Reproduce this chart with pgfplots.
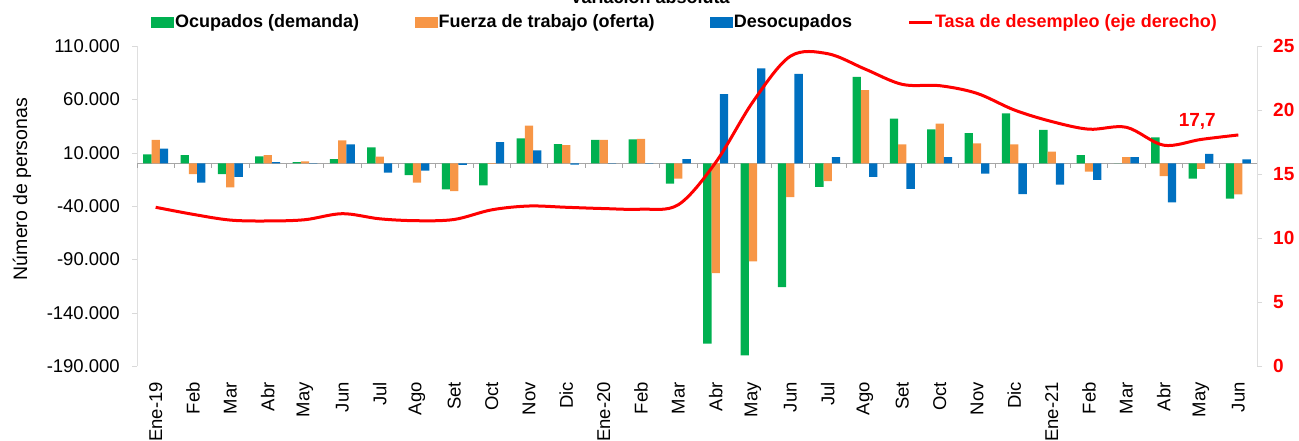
\documentclass[border=0pt]{standalone}
\usepackage{fontspec}
\setmainfont{Liberation Sans}
\usepackage{pgfplots}
\pgfplotsset{compat=1.18}
\usepackage{pgfplotstable}
\usetikzlibrary{calc}

\definecolor{ocu}{RGB}{0,176,80}
\definecolor{fue}{RGB}{247,150,70}
\definecolor{des}{RGB}{0,112,192}
\definecolor{tasa}{RGB}{255,0,0}

% variacion absoluta (personas) y tasa de desempleo (%)
\pgfplotstableread{
x  ocu      fue      des     tasa
0  8400     21900    13800   12.4
1  7800     -10000   -18000  11.85
2  -10000   -22500   -12800  11.4
3  6600     7800     1200    11.33
4  1200     1900     300     11.43
5  4000     21600    17800   11.9
6  15000    6200     -8800   11.5
7  -11000   -18000   -6900   11.35
8  -24400   -26000   -1500   11.45
9  -20600   -600     20000   12.2
10 23400    35300    12200   12.5
11 18000    17000    -1200   12.4
12 21900    21900    -300    12.3
13 22500    23000    -300    12.25
14 -19000   -14400   4000    12.6
15 -169000  -103000  65000   15.9
16 -180000  -92000   89000   20.65
17 -116000  -31600   83800   24.2
18 -22000   -16600   5900    24.4
19 81000    68600    -12800  23.2
20 41900    17800    -24000  22.0
21 31900    37200    5900    21.9
22 28400    18800    -9700   21.3
23 46900    17800    -28800  20.0
24 31300    10900    -20000  19.1
25 7800     -7800    -15600  18.5
26 0        5900     5900    18.65
27 24400    -11900   -36600  17.25
28 -14400   -5300    8800    17.7
29 -33000   -29000   3800    18.05
}\datos

\newcommand{\fnt}{\fontsize{18.5}{21}\selectfont}

\begin{document}
\begin{tikzpicture}
\begin{axis}[
  name=main,
  scale only axis, width=1120pt, height=320pt,
  xmin=-0.5, xmax=29.5,
  ymin=-190000, ymax=110000,
  ytick={-190000,-140000,...,110000},
  scaled y ticks=false,
  /pgf/number format/assume math mode=true,
  /pgf/number format/fixed,
  /pgf/number format/1000 sep={.},
  xtick={0,...,29},
  xticklabels={Ene-19,Feb,Mar,Abr,May,Jun,Jul,Ago,Set,Oct,Nov,Dic,Ene-20,Feb,Mar,Abr,May,Jun,Jul,Ago,Set,Oct,Nov,Dic,Ene-21,Feb,Mar,Abr,May,Jun},
  xticklabel style={rotate=90, anchor=east, inner sep=0pt},
  xticklabel shift=11pt,
  tick label style={font=\fnt},
  axis y line*=left, axis x line*=bottom,
  x axis line style={draw=none},
  y axis line style={draw=gray!25},
  xtick style={draw=none},
  ytick style={draw=gray!30},
  tick align=outside, major tick length=5pt,
  yticklabel style={inner sep=0pt, xshift=-12pt},
  ylabel={Número de personas},
  ylabel style={font=\fontsize{19.5}{22}\selectfont, at={(ticklabel cs:0.553)}, yshift=12pt},
  ybar=0pt, bar width=8.3pt,
  legend columns=4,
  legend style={draw=none, fill=none, at={(0,1)}, anchor=west,
    xshift=14pt, yshift=24pt, inner sep=0pt,
    font=\fontsize{18}{20}\selectfont\bfseries,
    nodes={inner xsep=1.5pt, inner ysep=0pt},
    /tikz/every even column/.append style={column sep=54pt}},
]
\draw[gray!70, line width=0.8pt] (axis cs:-0.5,0) -- (axis cs:29.5,0);
\pgfplotsinvokeforeach{-0.5,0.5,...,29.5}{
  \draw[gray!70, line width=0.8pt] (axis cs:#1,0) -- ++(0pt,-5pt);
}
\addplot[fill=ocu, draw=none, forget plot, bar shift=-8.3pt] table[x=x,y=ocu]{\datos};
\addplot[fill=fue, draw=none, forget plot, bar shift=0pt] table[x=x,y=fue]{\datos};
\addplot[fill=des, draw=none, forget plot, bar shift=8.3pt] table[x=x,y=des]{\datos};
\addlegendimage{legend image code/.code={\fill[ocu] (0pt,-5pt) rectangle (22pt,5pt);}}
\addlegendentry{Ocupados (demanda)}
\addlegendimage{legend image code/.code={\fill[fue] (0pt,-5pt) rectangle (22pt,5pt);}}
\addlegendentry{Fuerza de trabajo (oferta)}
\addlegendimage{legend image code/.code={\fill[des] (0pt,-5pt) rectangle (22pt,5pt);}}
\addlegendentry{Desocupados}
\addlegendimage{legend image code/.code={\draw[tasa, line width=3pt] (0pt,0pt) -- (23pt,0pt);}}
\addlegendentry{\textcolor{tasa}{Tasa de desempleo (eje derecho)}}
\end{axis}

\begin{axis}[
  scale only axis, width=1120pt, height=320pt,
  xmin=-0.5, xmax=29.5,
  ymin=0, ymax=25,
  ytick={0,5,...,25},
  axis x line=none, axis y line*=right,
  y axis line style={draw=gray!25},
  ytick style={draw=gray!30},
  tick align=outside, major tick length=5pt,
  yticklabel style={font=\fontsize{19}{21}\selectfont\bfseries, text=tasa, inner sep=0pt, xshift=11pt},
  /pgf/number format/assume math mode=true,
]
\addplot[tasa, line width=3pt, smooth, tension=0.55, mark=none] table[x=x,y=tasa]{\datos};
\node[text=tasa, font=\fontsize{19}{21}\selectfont\bfseries] at (axis cs:27.9,19.14) {17,7};
\end{axis}

\node[font=\fontsize{18}{20}\selectfont\bfseries, anchor=base] at ($(main.north west)+(513pt,42pt)$) {Variación absoluta};
\pgfresetboundingbox
\path[use as bounding box] ($(main.south west)+(-137pt,-74pt)$) rectangle ($(main.north east)+(42pt,46pt)$);
\end{tikzpicture}
\end{document}
